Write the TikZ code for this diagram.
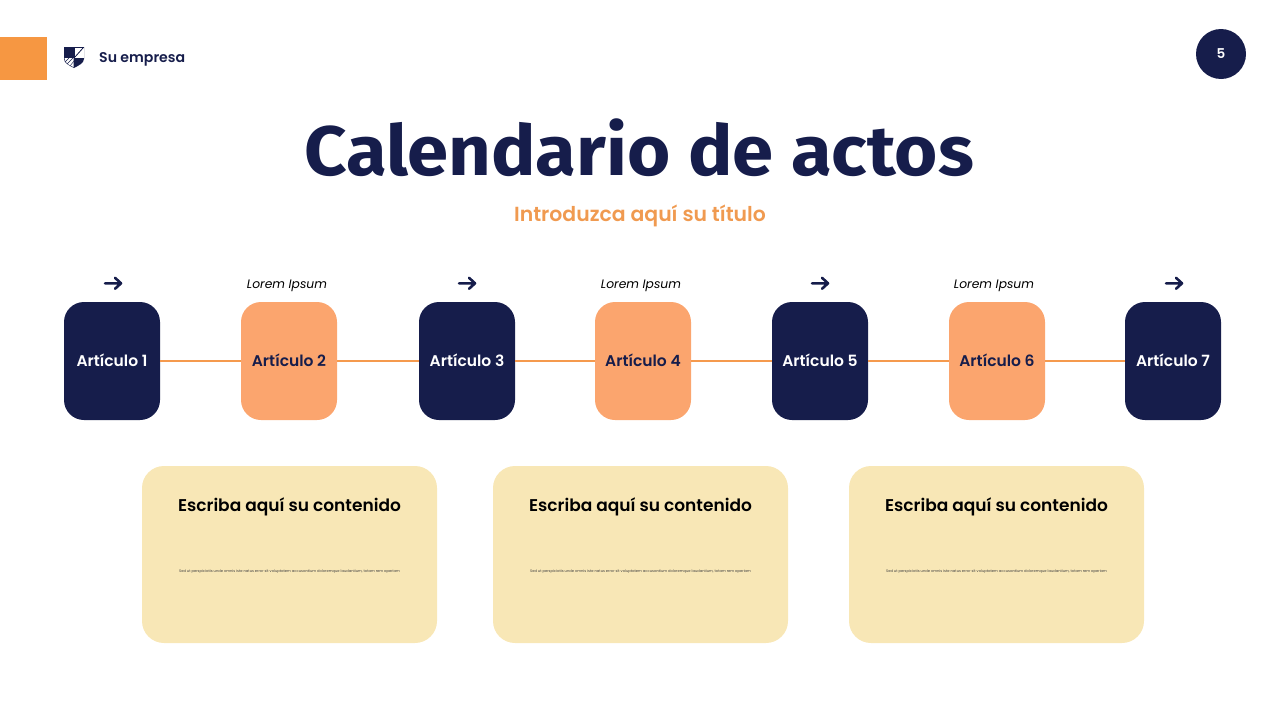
\documentclass[tikz,border=0pt]{standalone}
\usepackage{fontspec}
\setmainfont{Poppins}
\newfontfamily\semifont{Poppins SemiBold}
\newfontfamily\titlefont[FakeStretch=1.06]{Fira Sans}
\definecolor{navy}{HTML}{161D4B}
\definecolor{squareorange}{HTML}{F69742}
\definecolor{boxorange}{HTML}{FBA56E}
\definecolor{lineorange}{HTML}{F59A4E}
\definecolor{subtitleorange}{HTML}{F09A50}
\definecolor{cardyellow}{HTML}{F8E7B6}
\tikzset{
  darkbox/.style={fill=navy, text=white, rounded corners=20pt, minimum width=96pt, minimum height=118pt, inner sep=0pt, text depth=2pt, font=\semifont\fontsize{15.5}{18}\selectfont},
  lightbox/.style={darkbox, fill=boxorange, text=navy},
  card/.style={fill=cardyellow, rounded corners=22pt, minimum width=295pt, minimum height=177pt, inner sep=0pt},
  cardhead/.style={text=black, inner sep=0pt, font=\semifont\fontsize{17}{20}\selectfont},
  cardtext/.style={text=black!75, inner sep=0pt, font=\fontsize{3.65}{5}\selectfont},
  note/.style={text=black, inner sep=0pt, font=\fontsize{12.3}{15}\selectfont\itshape},
  arrowmark/.style={draw=navy, line width=2.6pt, line cap=round, line join=round},
  link/.style={draw=lineorange, line width=1.1pt},
}
\begin{document}
\begin{tikzpicture}[x=1pt, y=-1pt]
  \useasboundingbox (0, 0) rectangle (1280, 720);
  % header
  \fill[squareorange] (0, 37) rectangle (47, 80);
  \fill[navy] (64, 47) -- (84, 47) -- (84, 59) .. controls (84, 63) and (78, 66) .. (74, 68) .. controls (70, 66) and (64, 63) .. (64, 59) -- cycle;
  \fill[white] (74.5, 47.5) -- (83.5, 47.5) -- (83.5, 57.5) -- (74.5, 57.5) -- cycle;
  \draw[navy, thick] (75, 57) -- (83, 48);
  \fill[white] (64.5, 58) -- (73.5, 58) -- (73.5, 67) .. controls (70, 65.5) and (64.5, 63) .. (64.5, 58) -- cycle;
  \draw[navy] (65, 62) -- (69, 58) (67, 64) -- (73, 58) (70, 66) -- (74, 61);
  \node[text=navy, inner sep=0pt, anchor=west, font=\semifont\fontsize{14.1}{17}\selectfont] (company) at (99, 59) {Su empresa};
  \node[circle, fill=navy, text=white, minimum size=50pt, inner sep=0pt, font=\semifont\fontsize{13.5}{16}\selectfont] (pagenum) at (1221, 54) {\raisebox{-1pt}{5}};
  % titles
  \node[text=navy, inner sep=0pt, font=\titlefont\bfseries\fontsize{70}{80}\selectfont] (title) at (639, 148) {Calendario de actos};
  \node[text=subtitleorange, inner sep=0pt, font=\semifont\fontsize{20.4}{23}\selectfont] (subtitle) at (640, 216) {Introduzca aquí su título};
  % boxes
  \node[darkbox] (art1) at (112, 361) {Artículo 1};
  \node[lightbox] (art2) at (289, 361) {Artículo 2};
  \node[darkbox] (art3) at (467, 361) {Artículo 3};
  \node[lightbox] (art4) at (643, 361) {Artículo 4};
  \node[darkbox] (art5) at (820, 361) {Artículo 5};
  \node[lightbox] (art6) at (997, 361) {Artículo 6};
  \node[darkbox] (art7) at (1173, 361) {Artículo 7};
  % lines
  \draw[link] (art1) -- (art2);
  \draw[link] (art2) -- (art3);
  \draw[link] (art3) -- (art4);
  \draw[link] (art4) -- (art5);
  \draw[link] (art5) -- (art6);
  \draw[link] (art6) -- (art7);
  % labels above
  \foreach \x in {113, 467, 820, 1174}
    \draw[arrowmark] (\x-8, 283.3) -- (\x+8, 283.3) (\x+2, 277.8) -- (\x+8, 283.3) -- (\x+2, 288.8);
  \node[note] (note2) at (287, 285.5) {Lorem Ipsum};
  \node[note] (note4) at (641, 285.5) {Lorem Ipsum};
  \node[note] (note6) at (994, 285.5) {Lorem Ipsum};
  % cards
  \foreach \n/\x in {1/289.5, 2/640.5, 3/996.5} {
    \node[card] (card\n) at (\x, 554.5) {};
    \node[cardhead] (head\n) at (\x, 506.5) {Escriba aquí su contenido};
    \node[cardtext] (text\n) at (\x, 571.5) {Sed ut perspiciatis unde omnis iste natus error sit voluptatem accusantium doloremque laudantium, totam rem aperiam};
  }
\end{tikzpicture}
\end{document}
